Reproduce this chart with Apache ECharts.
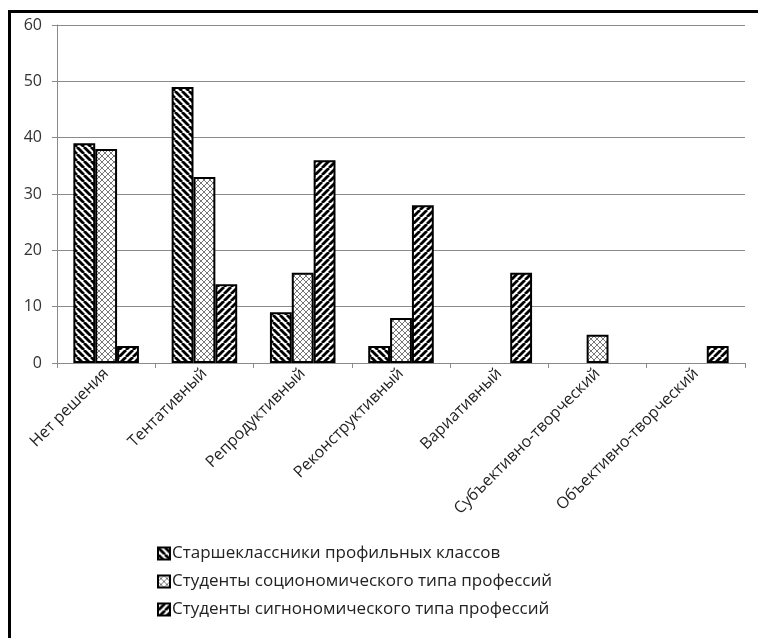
<!DOCTYPE html>
<html>
<head>
<meta charset="utf-8">
<script src="https://cdn.jsdelivr.net/npm/echarts@6/dist/echarts.min.js"></script>
<style>
  html, body { margin: 0; padding: 0; background: #fff; overflow: hidden; }
  #frame { position: absolute; left: 8px; top: 10px; width: 747px; height: 625px;
           border-left: 3px solid #000; border-top: 3px solid #000; }
  #chart { position: absolute; left: 0; top: 0; width: 758px; height: 638px; }
</style>
</head>
<body>
<div id="frame"></div>
<div id="chart"></div>
<script>
var categories = ["Нет решения", "Тентативный", "Репродуктивный", "Реконструктивный",
  "Вариативный", "Субъективно-творческий", "Объективно-творческий"];
var seriesNames = ["Старшеклассники профильных классов",
  "Студенты социономического типа профессий",
  "Студенты сигнономического типа профессий"];
var seniors = [39, 49, 9, 3, null, null, null];
var socionomic = [38, 33, 16, 8, null, 5, null];
var signonomic = [3, 14, 36, 28, 16, null, 3];
var yTicks = [0, 10, 20, 30, 40, 50, 60];

// hatch fills drawn on small canvases
function stripes(dir) {
  var s = 7;
  var c = document.createElement("canvas");
  c.width = s; c.height = s;
  var g = c.getContext("2d");
  g.fillStyle = "#fff"; g.fillRect(0, 0, s, s);
  g.strokeStyle = "#000"; g.lineWidth = 2.8;
  for (var k = -1; k <= 1; k++) {
    g.beginPath();
    if (dir > 0) { g.moveTo(k * s, 0); g.lineTo(k * s + s, s); }
    else { g.moveTo(k * s, s); g.lineTo(k * s + s, 0); }
    g.stroke();
  }
  return { image: c, repeat: "repeat" };
}
function crosses() {
  var s = 6;
  var c = document.createElement("canvas");
  c.width = s; c.height = s;
  var g = c.getContext("2d");
  g.fillStyle = "#fff"; g.fillRect(0, 0, s, s);
  g.strokeStyle = "#777"; g.lineWidth = 1;
  g.beginPath(); g.moveTo(0, 0); g.lineTo(s, s); g.stroke();
  g.beginPath(); g.moveTo(0, s); g.lineTo(s, 0); g.stroke();
  return { image: c, repeat: "repeat" };
}

var font = "'Open Sans', sans-serif";
var chart = echarts.init(document.getElementById("chart"));
var fills = [stripes(1), crosses(), stripes(-1)];
var values = [seniors, socionomic, signonomic];

chart.setOption({
  animation: false,
  grid: { left: 57, right: 13, top: 25, bottom: 275 },
  legend: {
    orient: "vertical",
    left: 152,
    top: 540,
    itemWidth: 12,
    itemHeight: 12,
    itemGap: 11,
    icon: "rect",
    data: seriesNames,
    textStyle: { fontFamily: font, fontSize: 17, color: "#222", padding: [0, 0, 0, -3] }
  },
  xAxis: {
    type: "category",
    data: categories,
    axisLine: { lineStyle: { color: "#8a8a8a" } },
    axisTick: { show: true, length: 5, lineStyle: { color: "#8a8a8a" } },
    axisLabel: { rotate: 45, interval: 0, margin: 8, fontFamily: font, fontSize: 16, color: "#222" }
  },
  yAxis: {
    type: "value",
    min: yTicks[0],
    max: yTicks[yTicks.length - 1],
    interval: 10,
    axisLine: { show: true, lineStyle: { color: "#8a8a8a" } },
    axisTick: { show: true, length: 5, lineStyle: { color: "#8a8a8a" } },
    axisLabel: { margin: 15, fontFamily: font, fontSize: 16, color: "#333" },
    splitLine: { lineStyle: { color: "#8a8a8a" } }
  },
  series: seriesNames.map(function (name, i) {
    return {
      name: name,
      type: "bar",
      data: values[i],
      barGap: "0%",
      barCategoryGap: "33.3%",
      itemStyle: { color: fills[i], borderColor: "#000", borderWidth: 2 }
    };
  })
});
</script>
</body>
</html>
